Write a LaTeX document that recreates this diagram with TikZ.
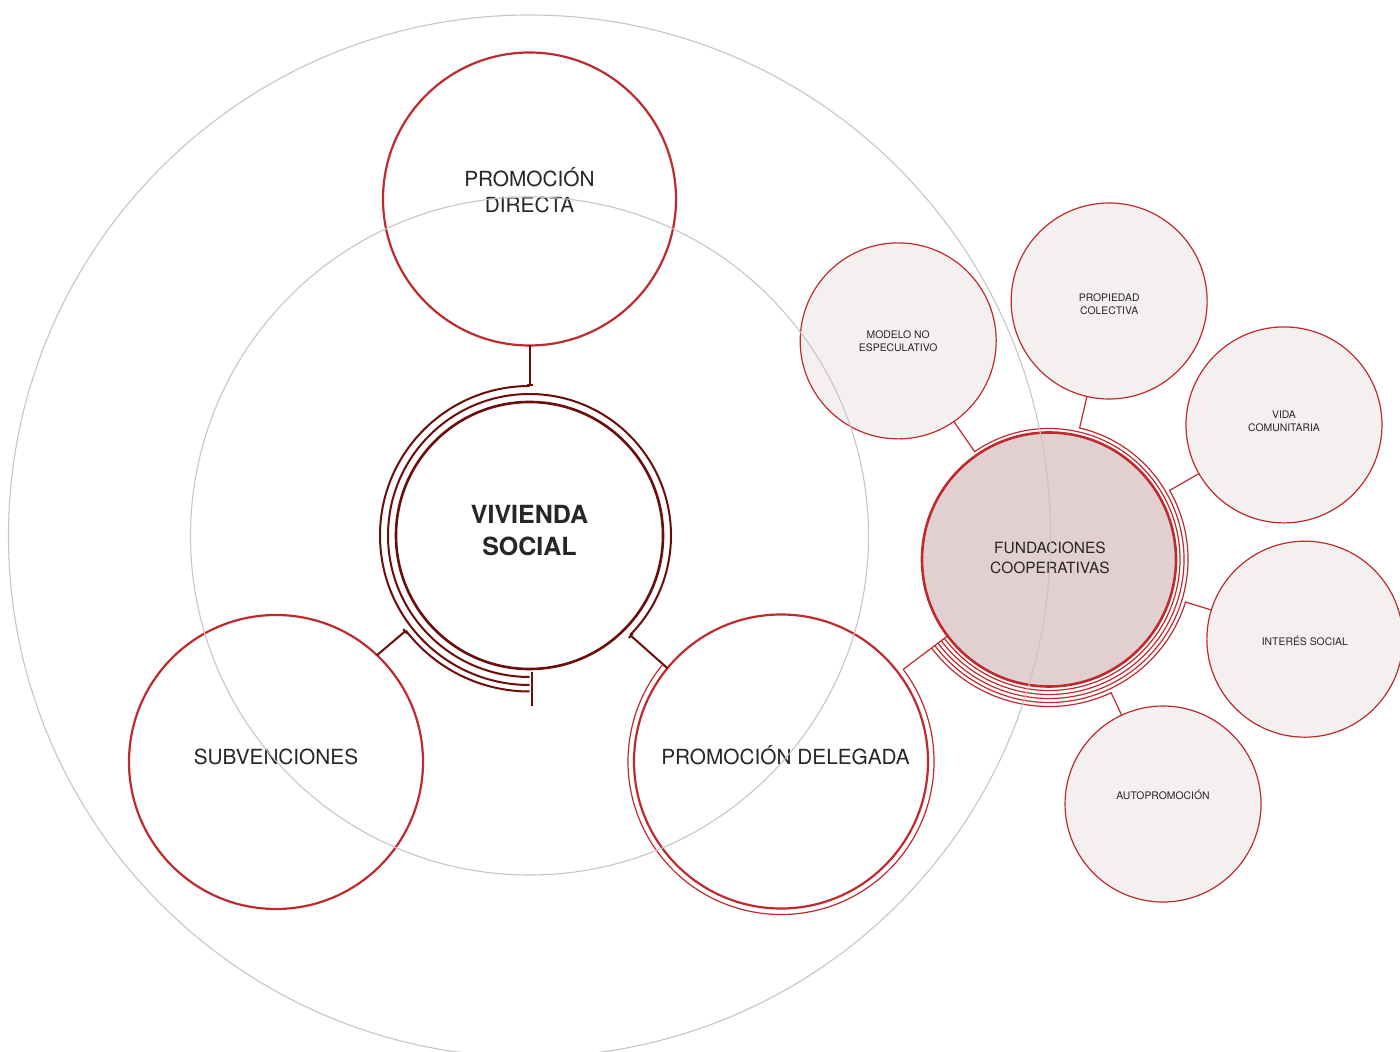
\documentclass[tikz,border=0pt]{standalone}
\usepackage{fontspec}
\setmainfont{TeX Gyre Heros}
\usetikzlibrary{calc,arrows.meta}
\definecolor{cred}{HTML}{BF2A2E}
\definecolor{dred}{HTML}{6B0E0B}
\definecolor{cgray}{HTML}{C6C6C6}
\definecolor{ffill}{HTML}{E2CFCF}
\definecolor{sfill}{HTML}{F5F0F0}
\definecolor{ctext}{HTML}{262626}
\begin{document}
\begin{tikzpicture}[x=1pt,y=1pt,
  graycirc/.style={draw=cgray,line width=1.1pt},
  rootnode/.style={circle,draw=dred,line width=2.6pt,fill=white,minimum size=267pt,inner sep=0pt},
  childnode/.style={circle,draw=cred,line width=2.2pt,minimum size=294pt,inner sep=0pt},
  fundnode/.style={circle,draw=cred,line width=2.6pt,fill=ffill,minimum size=254pt,inner sep=0pt},
  satnode/.style={circle,draw=cred,line width=1.2pt,fill=sfill,minimum size=196pt,inner sep=0pt},
  biglbl/.style={font=\fontsize{20.8}{26}\selectfont,text=ctext,align=center},
  rootlbl/.style={font=\fontsize{25}{32}\selectfont\bfseries,text=ctext,align=center},
  fundlbl/.style={font=\fontsize{15.5}{20}\selectfont,text=ctext,align=center},
  satlbl/.style={font=\fontsize{10.4}{13}\selectfont,text=ctext,align=center},
  vline/.style={draw=dred,line width=2pt},
  vtip/.style={vline,-{Bar[width=6pt,line width=2pt]}},
  rline/.style={draw=cred,line width=1.2pt}
]
\useasboundingbox (0,0) rectangle (1400,1052);
\fill[white] (0,0) rectangle (1400,1052);

\coordinate (G) at (529.5,516);

% main nodes
\node[rootnode,label={[rootlbl,yshift=4.5pt]center:VIVIENDA\\SOCIAL}] (V) at (529.5,516.5) {};
\node[childnode,minimum size=293pt,label={[biglbl,yshift=8.5pt]center:PROMOCIÓN\\DIRECTA}] (P) at (529.5,853) {};
\node[childnode,label={[biglbl,yshift=5pt]center:SUBVENCIONES}] (S) at (276,290) {};
\node[childnode,label={[biglbl,yshift=6pt,xshift=4.5pt]center:PROMOCIÓN DELEGADA}] (D) at (781,290.5) {};
\node[fundnode,label={[fundlbl,yshift=1.5pt,xshift=1pt]center:FUNDACIONES\\COOPERATIVAS}] (F) at (1049,492.5) {};

% satellites
\node[satnode,label={[satlbl]center:MODELO NO\\ESPECULATIVO}] (M1) at ($(F)+(124.6:265.6)$) {};
\node[satnode,label={[satlbl,yshift=-3.5pt]center:PROPIEDAD\\COLECTIVA}] (M2) at ($(F)+(76.9:265.4)$) {};
\node[satnode,label={[satlbl,yshift=3.5pt]center:VIDA\\COMUNITARIA}] (M3) at ($(F)+(29.8:270.8)$) {};
\node[satnode,label={[satlbl,yshift=-2pt]center:INTERÉS SOCIAL}] (M4) at ($(F)+(-17.3:268)$) {};
\node[satnode,label={[satlbl,yshift=9pt]center:AUTOPROMOCIÓN}] (M5) at ($(F)+(-65:269.8)$) {};

% connectors of the root, wrapping round it
\draw[vtip] ($(P)!146.5pt!(V)$) -- ($(V)+(90:149.5)$);
\draw[vline] ($(V)+(90:149.5)$) arc[start angle=90,end angle=270,radius=149.5];
\draw[vtip] ($(S)+(46.6:147)$) -- ($(V)+(217.6:156)$);
\draw[vline] ($(V)+(217.6:156)$) arc[start angle=217.6,end angle=270,radius=156];
\draw[vtip] ($(D)+(140.6:147)$) -- ($(V)+(-44.7:141.5)$);
\draw[vline] ($(V)+(-44.7:141.5)$) arc[start angle=-44.7,end angle=270,radius=141.5];
\coordinate (Vtop) at ($(V)+(2,-137)$);
\coordinate (Vbot) at ($(V)+(2,-171)$);
\draw[vline] (Vtop) -- (Vbot);

% delegada to fundaciones
\draw[rline] ($(D)+(37:153)$) arc[start angle=37,end angle=-219.4,radius=153];
\draw[rline] ($(D)!153pt!(F)$) -- ($(F)!127pt!(D)$);

% satellites to fundaciones
\foreach \n/\a/\r in {M1/124.6/131, M2/76.9/135, M3/29.8/139, M4/-17.3/143, M5/-65/147}{
  \draw[rline] ($(\n)!98pt!(F)$) -- ($(F)+(\a:\r)$) arc[start angle=\a,end angle=-143,radius=\r];
}

% grey guide circles
\draw[graycirc] (G) circle[radius=339];
\draw[graycirc] (G) circle[radius=521];
\end{tikzpicture}
\end{document}
